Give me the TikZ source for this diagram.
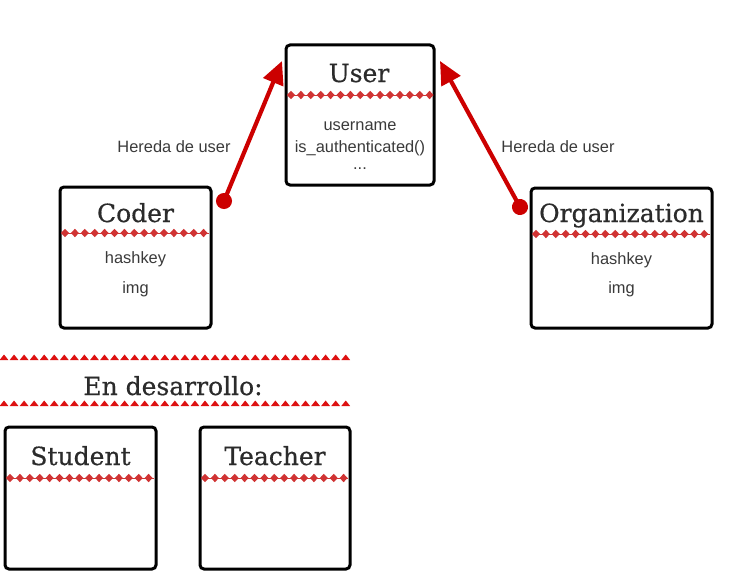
\documentclass[tikz,border=0pt]{standalone}
\usepackage{fontspec}
\setmainfont{Liberation Sans}
\newfontfamily\rsTitleFont[FakeBold=0.5]{DejaVu Serif}
\usetikzlibrary{arrows.meta}
\definecolor{txtgray}{HTML}{3A3A3A}
\definecolor{titlegray}{HTML}{2B2B2B}
\definecolor{arrowred}{HTML}{CC0000}
\definecolor{diared}{HTML}{D03333}
\definecolor{trired}{HTML}{DD1111}
\newcommand\rsDiamonds[3]{%
  \draw[diared, line width=1pt] (#1,#3) -- (#2,#3);
  \pgfmathtruncatemacro\rsN{(#2-#1-3)/9.9}%
  \foreach \i in {0,...,\rsN}{%
    \fill[diared] ({#1+3+\i*9.9},#3) +(-4,0) -- +(0,4.2) -- +(4,0) -- +(0,-4.2) -- cycle;}%
}
\newcommand\rsTriangles[3]{%
  \pgfmathtruncatemacro\rsN{(#2-#1)/10.05}%
  \foreach \i in {0,...,\rsN}{%
    \fill[trired] ({#1+4+\i*10.05},#3) +(-4.4,0) -- +(0,-5.5) -- +(4.4,0) -- cycle;}%
}
\tikzset{
  classbox/.style={draw=black, line width=3pt, rounded corners=4pt, fill=white, inner sep=0pt},
  classtitle/.style={font=\rsTitleFont\fontsize{25}{29}\selectfont, text=titlegray, anchor=base, inner sep=0pt},
  member/.style={font=\fontsize{16.4}{19}\selectfont, text=txtgray, anchor=base, inner sep=0pt},
  inherit/.style={draw=arrowred, line width=4.2pt, {Circle[length=16pt]}-{Triangle[length=23pt,width=21pt]}, shorten <=-8pt},
}
\begin{document}
\begin{tikzpicture}[x=1pt,y=-1pt]
\useasboundingbox (0,0) rectangle (731,578);
% boxes
\node[classbox, minimum width=148pt, minimum height=140pt] (user) at (360,115) {};
\node[classbox, minimum width=151pt, minimum height=141pt] (coder) at (135.5,257.5) {};
\node[classbox, minimum width=181pt, minimum height=140pt] (org) at (621.5,258) {};
\node[classbox, minimum width=151pt, minimum height=142pt] (student) at (80.5,498) {};
\node[classbox, minimum width=150pt, minimum height=142pt] (teacher) at (275,498) {};
% titles
\node[classtitle] (usert) at (359,82) {User};
\node[classtitle] (codert) at (135.5,222) {Coder};
\node[classtitle] (orgt) at (621.5,222) {Organization};
\node[classtitle] (studentt) at (80.5,465) {Student};
\node[classtitle] (teachert) at (275,465) {Teacher};
% dividers
\rsDiamonds{288}{432}{95}
\rsDiamonds{62}{209}{233}
\rsDiamonds{533}{710}{234}
\rsDiamonds{7}{154}{478}
\rsDiamonds{202}{348}{478}
% members
\node[member] (u1) at (360,130) {username};
\node[member] (u2) at (360,152) {is\_authenticated()};
\node[member] (u3) at (360,169) {...};
\node[member] (c1) at (135.5,263) {hashkey};
\node[member] (c2) at (135.5,293) {img};
\node[member] (o1) at (621.5,264) {hashkey};
\node[member] (o2) at (621.5,293) {img};
% in development
\rsTriangles{0}{351}{360}
\node[classtitle] (dev) at (173,395) {En desarrollo:};
\rsTriangles{0}{351}{406}
% arrows
\coordinate (ls) at (224,201);
\coordinate (le) at (282,61);
\coordinate (rs) at (520,207);
\coordinate (re) at (440,61);
\draw[inherit] (ls) -- (le);
\draw[inherit] (rs) -- (re);
\node[member] (l1) at (174,152) {Hereda de user};
\node[member] (l2) at (558,152) {Hereda de user};
\end{tikzpicture}
\end{document}
